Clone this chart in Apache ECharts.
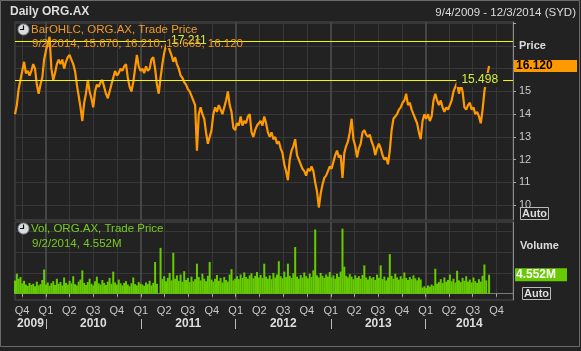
<!DOCTYPE html>
<html>
<head>
<meta charset="utf-8">
<script src="https://cdn.jsdelivr.net/npm/echarts@6/dist/echarts.min.js"></script>
<style>
html, body { margin: 0; padding: 0; background: #222222; }
#panel { width: 581px; height: 351px; }
</style>
</head>
<body>
<div id="panel"></div>
<script>
// weekly samples, first one on 4 Sep 2009, last bar is 2 Sep 2014
var firstWeek = [2009, 8, 4];
var lastBarDay = [2014, 8, 2];
var viewStart = [2009, 8, 4];
var viewEnd = [2014, 11, 3];

var closes = [
    14.0, 14.4, 15.1, 15.5, 15.9, 16.3, 15.8, 15.9, 15.7, 15.9,
    16.2, 16.0, 15.3, 14.9, 15.3, 15.6, 16.4, 16.8, 17.1, 17.4,
    16.0, 15.5, 15.8, 16.2, 16.4, 16.2, 16.4, 16.0, 16.3, 16.5,
    16.6, 16.4, 16.2, 15.9, 15.3, 14.8, 14.3, 13.7, 14.5, 14.9,
    15.5, 15.0, 14.7, 14.3, 15.0, 15.3, 15.2, 15.4, 15.5, 15.2,
    14.9, 14.7, 15.0, 15.3, 15.6, 15.9, 15.7, 15.8, 16.0, 15.9,
    16.1, 16.2, 15.6, 15.2, 15.0, 15.4, 16.0, 16.6, 16.1, 15.9,
    16.0, 15.8, 16.1, 15.9, 16.0, 16.4, 16.5, 16.0, 15.3, 14.9,
    15.6, 16.2, 16.7, 17.0, 17.2, 16.8, 16.6, 16.3, 16.5, 16.2,
    16.0, 15.7, 15.6, 15.4, 15.3, 15.1, 15.0, 14.8, 14.6, 14.4,
    12.4, 14.0, 14.3, 14.0, 13.8, 13.2, 12.7, 13.0, 13.3, 14.0,
    14.3, 14.1, 14.4, 14.2, 14.0, 14.3, 14.6, 15.0, 14.4, 14.1,
    13.4, 13.3, 13.6, 13.5, 13.9, 13.5, 13.7, 13.6, 13.9, 14.0,
    13.2, 13.0, 13.3, 13.5, 13.6, 13.7, 13.5, 13.9, 13.6, 13.2,
    13.0, 13.2, 12.9, 13.0, 12.7, 12.8, 12.5, 12.3, 11.8, 11.5,
    11.1, 12.0, 12.4, 12.6, 12.9, 12.2, 12.0, 11.8, 11.6, 11.5,
    11.3, 11.6, 11.5, 11.7, 11.5, 11.0, 10.6, 9.9, 10.5, 10.9,
    11.2, 11.3, 11.5, 11.7, 11.6, 11.9, 12.2, 12.4, 12.1, 12.2,
    11.2, 12.3, 12.6, 12.8, 13.2, 13.8, 12.9, 12.6, 12.1, 12.5,
    12.7, 13.2, 13.3, 13.1, 13.0, 13.1, 12.8, 12.6, 12.2, 12.5,
    12.7, 12.5, 12.2, 12.0, 12.1, 11.8, 12.4, 13.3, 13.8, 13.9,
    14.0, 14.2, 14.3, 14.5, 14.6, 14.9, 14.4, 14.5, 14.2, 14.0,
    13.8, 13.6, 13.2, 12.9, 13.7, 14.0, 13.8, 14.0, 13.7, 13.9,
    14.6, 14.9, 14.6, 14.4, 14.6, 14.3, 14.1, 14.3, 14.2, 14.4,
    14.6, 15.0, 15.2, 15.4, 14.9, 15.3, 15.0, 14.3, 14.2, 14.4,
    14.5, 14.2, 14.3, 14.0, 14.1, 13.9, 13.6, 14.2, 15.0, 15.5,
    16.12
];

// volume in millions
var volumes = [
    3.2, 4.8, 3.6, 4.0, 2.5, 3.1, 2.2, 1.9, 2.6, 2.1,
    2.4, 1.8, 2.9, 2.0, 2.3, 3.3, 5.8, 2.2, 2.7, 1.9,
    2.5, 3.0, 2.1, 3.6, 2.4, 2.8, 2.0, 3.9, 2.6, 2.2,
    3.1, 2.5, 4.2, 2.3, 2.0, 2.9, 3.4, 5.6, 2.6, 2.1,
    2.8, 3.6, 2.4, 2.0, 3.0, 4.1, 2.5, 2.2, 3.3, 2.6,
    2.1, 2.9, 3.8, 2.4, 5.3, 2.7, 2.2, 3.4, 2.5, 2.0,
    2.6, 3.0, 2.2, 1.8, 2.5, 3.9, 2.3, 2.0, 2.8, 2.4,
    2.2, 1.9, 2.7, 2.3, 3.1, 2.0, 2.6, 7.6, 2.4, 0.0,
    11.0, 3.5, 4.2, 3.0, 3.8, 5.0, 3.2, 9.8, 3.6, 4.4,
    3.1, 4.6, 2.9, 5.4, 3.3, 3.8, 2.8, 4.1, 3.0, 3.5,
    7.2, 4.0, 3.2, 4.8, 3.6, 3.0, 4.3, 7.6, 3.4, 2.9,
    3.6, 4.5, 3.1, 3.8, 2.7, 4.0, 3.3, 2.9, 4.6, 5.9,
    3.2, 3.6, 4.2, 3.5, 4.6, 3.8, 5.1, 4.0, 3.6, 4.4,
    4.9, 3.7, 4.3, 5.2, 3.9, 4.5, 3.8, 7.2, 4.1, 3.6,
    4.4, 3.5, 5.0, 3.9, 4.6, 7.8, 4.2, 3.7, 5.3, 4.0,
    7.2, 4.3, 3.8, 4.9, 11.2, 4.1, 3.6, 4.5, 3.9, 5.1,
    4.2, 3.7, 4.8, 4.0, 5.6, 15.4, 4.4, 3.9, 5.0, 4.3,
    3.8, 4.6, 4.1, 5.2, 3.9, 4.4, 3.6, 4.8, 4.0, 5.3,
    15.6, 6.5, 4.3, 3.9, 4.7, 4.1, 3.5, 4.4, 3.8, 4.2,
    3.6, 4.5, 6.8, 3.9, 3.4, 4.2, 3.7, 4.0, 3.3, 4.6,
    3.8, 6.8, 3.5, 4.1, 3.2, 3.9, 9.5, 4.3, 3.6, 4.8,
    3.9, 3.4, 4.2, 3.6, 5.1, 3.8, 3.3, 4.0, 3.5, 4.4,
    3.7, 3.2, 3.9, 3.4, 1.5, 1.8, 1.4, 2.0, 1.7, 2.2,
    1.9, 6.0, 2.4, 2.8, 3.5, 2.6, 3.9, 2.9, 3.3, 4.6,
    3.0, 3.6, 2.7, 5.5, 3.2, 2.8, 3.8, 3.1, 4.2, 2.9,
    3.4, 2.7, 3.9, 3.0, 2.6, 3.5, 2.9, 4.3, 7.0, 3.2,
    4.552
];

var lastBar = ['9/2/2014', 15.670, 16.210, 15.665, 16.120];
var lastVolume = 4.552;
var priceLevels = [17.211, 15.498];
var levelLabelDays = [[2011, 6, 5], [2014, 6, 28]];
var priceTicks = [10, 11, 12, 13, 14, 15, 16, 17, 18];
var priceLabels = [10, 11, 12, 13, 14, 15];
var volumeTicks = [0, 5, 10, 15];
var years = [2009, 2010, 2011, 2012, 2013, 2014];

var FONT = '"Liberation Sans", Arial, sans-serif';

function day(d) { return new Date(d[0], d[1], d[2]).getTime(); }

var tMin = day(viewStart), tMax = day(viewEnd);
var priceData = [], volData = [];
for (var k = 0; k < closes.length; k++) {
    var t = (k == closes.length - 1) ? day(lastBarDay) : day([firstWeek[0], firstWeek[1], firstWeek[2] + 7 * k]);
    priceData.push([t, closes[k]]);
    volData.push([t, volumes[k]]);
}

var quarterStarts = [], yearStarts = [], yearMids = [];
years.forEach(function (y) {
    [0, 3, 6, 9].forEach(function (m) {
        var q = day([y, m, 1]);
        if (q >= tMin && q <= tMax) quarterStarts.push(q);
    });
    var a = Math.max(tMin, day([y, 0, 1])), b = Math.min(tMax, day([y + 1, 0, 1]));
    if (day([y, 0, 1]) > tMin) yearStarts.push(day([y, 0, 1]));
    yearMids.push((a + b) / 2);
});

var gridColor = '#383838';
var yearGridColor = '#454545';
var hidden = { color: 'rgba(0,0,0,0)', width: 0 };

// time runs on value axes (ms), so custom tick lists stay plain numbers
function timeAxis(grid, ticks, splitStyle) {
    return {
        type: 'value', gridIndex: grid, min: tMin, max: tMax,
        axisLine: { show: false },
        axisTick: { show: false, customValues: ticks },
        axisLabel: { show: false },
        splitLine: { show: true, lineStyle: splitStyle }
    };
}

var xAxes = [
    timeAxis(0, quarterStarts, { color: gridColor, width: 1 }),
    timeAxis(0, yearStarts, { color: yearGridColor, width: 2 }),
    {
        type: 'value', gridIndex: 1, min: tMin, max: tMax,
        axisLine: { show: true, lineStyle: { color: '#7a7a7a' } },
        axisTick: { show: true, customValues: quarterStarts, length: 3, lineStyle: { color: '#aaaaaa' } },
        axisLabel: {
            customValues: quarterStarts, color: '#c8c8c8', fontSize: 11, fontFamily: FONT, margin: 5,
            showMinLabel: true, showMaxLabel: true,
            formatter: function (v) { return 'Q' + (Math.floor(new Date(v).getMonth() / 3) + 1); }
        },
        splitLine: { show: true, lineStyle: { color: gridColor } }
    },
    timeAxis(1, yearStarts, { color: yearGridColor, width: 2 }),
    {
        type: 'value', gridIndex: 1, min: tMin, max: tMax, position: 'bottom', offset: 19,
        axisLine: { show: false },
        axisTick: { show: true, customValues: yearStarts, length: 10, lineStyle: { color: '#bbbbbb' } },
        axisLabel: {
            customValues: yearMids, color: '#dddddd', fontSize: 12, fontWeight: 'bold', fontFamily: FONT, margin: -1,
            formatter: function (v) { return String(new Date(v).getFullYear()); }
        },
        splitLine: { show: false }
    }
];

var myChart = echarts.init(document.getElementById('panel'));

options = {
    backgroundColor: '#222222',
    animation: false,
    textStyle: { fontFamily: FONT },
    grid: [
        { left: 15, right: 68, top: 22, height: 198, show: true, borderColor: '#4d4d4d', borderWidth: 1 },
        { left: 15, right: 68, top: 222, height: 78, show: true, borderColor: '#4d4d4d', borderWidth: 1 }
    ],
    xAxis: xAxes,
    yAxis: [
        {
            type: 'value', gridIndex: 0, position: 'right', min: 9.35, max: 18.05,
            axisLine: { show: true, lineStyle: { color: '#8a8a8a' } },
            axisTick: { show: true, customValues: priceTicks, length: 3, lineStyle: { color: '#aaaaaa' } },
            axisLabel: { customValues: priceLabels, color: '#c8c8c8', fontSize: 11, margin: 6 },
            splitLine: { show: true, lineStyle: { color: gridColor } }
        },
        {
            type: 'value', gridIndex: 1, position: 'right', min: -1.5, max: 17.2,
            axisLine: { show: true, lineStyle: { color: '#8a8a8a' } },
            axisTick: { show: false, customValues: volumeTicks },
            axisLabel: { show: false },
            splitLine: { show: true, lineStyle: { color: gridColor } }
        }
    ],
    series: [
        {
            name: 'BarOHLC', type: 'line', xAxisIndex: 0, yAxisIndex: 0,
            data: priceData, showSymbol: false, z: 3,
            lineStyle: { color: '#ff9900', width: 2.2 },
            markLine: {
                silent: true, symbol: 'none',
                data: [
                    { yAxis: priceLevels[0], lineStyle: { color: '#f5f500', width: 1, type: 'solid' }, label: { show: false } },
                    { yAxis: priceLevels[1], lineStyle: { color: '#f5f500', width: 1, type: 'solid' }, label: { show: false } },
                    {
                        yAxis: lastBar[4], lineStyle: hidden,
                        label: {
                            show: true, position: 'end', distance: 1, formatter: lastBar[4].toFixed(3),
                            backgroundColor: '#ff9900', color: '#000000', fontWeight: 'bold', fontSize: 12,
                            width: 61, height: 11, lineHeight: 12, padding: [1, 0, 0, 2], align: 'left'
                        }
                    }
                ]
            },
            markPoint: {
                silent: true, symbol: 'rect', symbolSize: 1, itemStyle: { color: 'transparent' },
                label: {
                    show: true, position: 'inside', color: '#d6f03a', fontSize: 12,
                    backgroundColor: '#222222', padding: [1, 5]
                },
                data: priceLevels.map(function (p, i) {
                    return { coord: [day(levelLabelDays[i]), p], label: { formatter: p.toFixed(3) } };
                })
            }
        },
        {
            name: 'Vol', type: 'bar', xAxisIndex: 2, yAxisIndex: 1,
            data: volData, barWidth: 2, itemStyle: { color: '#66cc00' },
            markLine: {
                silent: true, symbol: 'none',
                data: [{
                    yAxis: lastVolume, lineStyle: hidden,
                    label: {
                        show: true, position: 'end', distance: 2, formatter: lastVolume.toFixed(3) + 'M',
                        backgroundColor: '#66cc00', color: '#ffffff', fontWeight: 'bold', fontSize: 12,
                        width: 51, height: 12, lineHeight: 13, padding: [1, 0, 0, 1], align: 'left'
                    }
                }]
            }
        }
    ],
    graphic: [
        { type: 'rect', silent: true, z: 100, shape: { x: 0.5, y: 0.5, width: 579, height: 346 }, style: { fill: 'none', stroke: '#6a6a6a', lineWidth: 1 } },
        { type: 'text', z: 100, left: 10, top: 6, style: { text: 'Daily ORG.AX', fill: '#dddddd', font: 'bold 12px ' + FONT } },
        { type: 'text', z: 100, right: 5, top: 7, style: { text: '9/4/2009 - 12/3/2014 (SYD)', fill: '#dddddd', font: '11.5px ' + FONT } },
        // clock icons
        { type: 'circle', z: 100, shape: { cx: 23.5, cy: 29.5, r: 5.5 }, style: { fill: '#dcdcdc', stroke: '#7a8a9a', lineWidth: 1 } },
        { type: 'polyline', z: 101, shape: { points: [[23.5, 25.5], [23.5, 29.5], [20, 29.5]] }, style: { stroke: '#111', lineWidth: 1.2, fill: 'none' } },
        { type: 'circle', z: 100, shape: { cx: 23.5, cy: 228.5, r: 5.5 }, style: { fill: '#dcdcdc', stroke: '#7a8a9a', lineWidth: 1 } },
        { type: 'polyline', z: 101, shape: { points: [[23.5, 224.5], [23.5, 228.5], [20, 228.5]] }, style: { stroke: '#111', lineWidth: 1.2, fill: 'none' } },
        { type: 'text', z: 100, left: 31, top: 24, style: { text: 'BarOHLC, ORG.AX, Trade Price', fill: '#f09a28', font: '11.5px ' + FONT } },
        { type: 'text', z: 100, left: 32, top: 38, style: { text: lastBar[0] + ', ' + lastBar.slice(1).map(function (v) { return v.toFixed(3); }).join(', '), fill: '#f09a28', font: '11.5px ' + FONT } },
        { type: 'text', z: 100, left: 31, top: 223, style: { text: 'Vol, ORG.AX, Trade Price', fill: '#77cc22', font: '11.5px ' + FONT } },
        { type: 'text', z: 100, left: 32, top: 238, style: { text: lastBar[0] + ', ' + lastVolume.toFixed(3) + 'M', fill: '#77cc22', font: '11.5px ' + FONT } },
        { type: 'text', z: 100, left: 519, top: 40, style: { text: 'Price', fill: '#dddddd', font: 'bold 11px ' + FONT } },
        { type: 'text', z: 100, left: 520, top: 240, style: { text: 'Volume', fill: '#dddddd', font: 'bold 11px ' + FONT } },
        { type: 'rect', z: 100, shape: { x: 520.5, y: 207.5, width: 28, height: 12 }, style: { fill: '#222222', stroke: '#bbbbbb', lineWidth: 1 } },
        { type: 'text', z: 101, left: 522, top: 208, style: { text: 'Auto', fill: '#dddddd', font: 'bold 11px ' + FONT } },
        { type: 'rect', z: 100, shape: { x: 522.5, y: 287.5, width: 28, height: 12 }, style: { fill: '#222222', stroke: '#bbbbbb', lineWidth: 1 } },
        { type: 'text', z: 101, left: 524, top: 288, style: { text: 'Auto', fill: '#dddddd', font: 'bold 11px ' + FONT } }
    ]
};

myChart.setOption(options);
</script>
</body>
</html>
